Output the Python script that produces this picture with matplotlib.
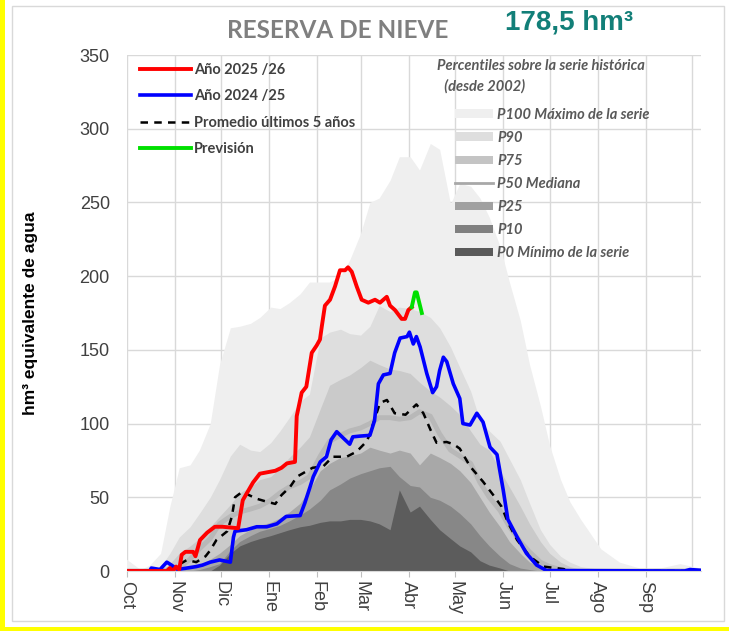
import numpy as np
import matplotlib
matplotlib.use("Agg")
import matplotlib.pyplot as plt
from matplotlib.patches import Patch, Rectangle
from matplotlib.lines import Line2D

# days counted from 1 October
months = ["Oct", "Nov", "Dic", "Ene", "Feb", "Mar", "Abr", "May", "Jun", "Jul", "Ago", "Sep"]
month_start = [0, 31, 61, 92, 123, 151, 182, 212, 243, 273, 304, 335, 365]

# percentile envelopes of the historical series (hm3)
pct_days = [0, 9, 15, 22, 28, 34, 41, 47, 54, 60, 67, 73, 80, 86, 93, 99, 105, 112, 118, 125,
            131, 138, 144, 151, 157, 163, 170, 176, 183, 189, 196, 202, 209, 215, 222, 228,
            234, 241, 247, 254, 260, 267, 273, 280, 286, 293, 306, 318, 331, 344, 357, 370]
p100 = [8, 1, 4, 12, 44, 70, 72, 82, 100, 140, 165, 166, 168, 172, 179, 178, 182, 188, 196, 196,
        196, 200, 211, 229, 250, 253, 265, 281, 281, 272, 290, 286, 249, 263, 261, 253,
        240, 220, 196, 170, 140, 112, 85, 62, 47, 35, 15, 6, 2, 2, 5, 2]
p90 = [0, 0, 0, 3, 12, 23, 30, 39, 50, 62, 78, 86, 82, 81, 87, 95, 104, 115, 120, 158,
       162, 164, 161, 160, 166, 180, 176, 179, 178, 176, 172, 165, 152, 138, 122, 102,
       95, 88, 76, 62, 46, 28, 18, 10, 6, 3, 1, 0, 0, 0, 0, 0]
p75 = [0, 0, 0, 0, 5, 12, 17, 22, 30, 37, 45, 53, 57, 62, 64, 70, 77, 84, 91, 110,
       126, 130, 133, 138, 143, 140, 137, 136, 134, 128, 122, 118, 112, 106, 95, 86,
       82, 68, 57, 44, 32, 20, 12, 6, 3, 1, 0, 0, 0, 0, 0, 0]
p50 = [0, 0, 0, 0, 1, 2, 8, 15, 22, 32, 37, 40, 42, 44, 48, 53, 57, 60, 64, 78,
       88, 92, 95, 97, 100, 104, 104, 103, 104, 108, 105, 93, 82, 78, 73, 60,
       50, 41, 30, 20, 13, 6, 3, 1, 0, 0, 0, 0, 0, 0, 0, 0]
p25 = [0, 0, 0, 0, 0, 0, 2, 4, 8, 12, 18, 24, 28, 31, 33, 36, 40, 46, 55, 68,
       73, 77, 78, 80, 84, 82, 80, 82, 80, 72, 80, 77, 73, 68, 60, 50,
       40, 30, 20, 12, 6, 3, 1, 0, 0, 0, 0, 0, 0, 0, 0, 0]
p10 = [0, 0, 0, 0, 0, 0, 0, 1, 3, 5, 14, 20, 24, 27, 29, 31, 34, 38, 42, 48,
       55, 59, 63, 66, 68, 70, 71, 64, 58, 57, 50, 48, 44, 39, 32, 24,
       17, 10, 5, 2, 1, 0, 0, 0, 0, 0, 0, 0, 0, 0, 0, 0]
p0 = [0, 0, 0, 0, 0, 0, 0, 0, 0, 4, 12, 17, 20, 22, 24, 26, 28, 30, 31, 33,
      34, 34, 35, 35, 34, 32, 28, 55, 40, 44, 35, 28, 22, 17, 13, 7,
      4, 2, 0, 0, 0, 0, 0, 0, 0, 0, 0, 0, 0, 0, 0, 0]

# season 2025/26
red_days = [0, 26, 28, 30, 32, 34, 35.6, 38, 43, 44.5, 47.4, 52, 57, 62, 72, 75, 81.6, 86, 96, 100,
            103.5, 108.7, 109.8, 113, 116, 119.5, 122.7, 124.8, 126, 128, 131.3, 134.5, 137.7,
            141, 142.9, 145.3, 148.5, 151.7, 156, 160.3, 163.5, 167.9, 170, 173.2, 177.5,
            179.7, 181.8, 184]
red_vals = [0, 0, 2, 0, 3, 1, 11, 13, 13, 10, 21, 26, 30, 30, 29, 48, 60, 66, 68, 70,
            73, 74, 105, 121, 125, 148, 153, 157, 166, 180, 184, 193, 204,
            204, 206, 203, 193, 184, 182, 184, 182, 186, 180, 177, 171,
            171, 177, 179]

# forecast
green_days = [184, 186.1, 187.2, 190.5]
green_vals = [179, 189, 189, 175]

# season 2024/25
blue_days = [0, 15, 16, 21.6, 26, 29, 33, 39, 45, 49, 54, 60, 67, 69, 70, 77.5, 84, 90.5, 97,
             103, 112, 115, 118.4, 120.5, 125, 129, 132, 135.6, 140, 144, 146, 150.6, 157,
             160, 162.5, 165.7, 170, 173, 176.5, 181, 182.5, 185, 187, 189.4, 193.7, 197.5,
             200, 202, 204.4, 206.6, 210.8, 215, 217, 221.6, 226, 230, 234.5, 239, 243,
             246, 252, 258, 264.6, 271, 360, 363.5, 370]
blue_vals = [0, 0, 2, 1, 6, 4, 1, 2, 3, 4, 6, 7.5, 6, 23, 27, 28, 30, 30, 32,
             37, 37.6, 46, 57, 64, 74, 77.5, 89, 94.5, 90, 86, 91, 91.5, 92,
             102, 127, 133, 134, 148, 158, 159, 162, 154, 159, 152, 134, 121,
             125, 136, 145, 142, 127, 117, 100, 99, 107, 101, 84, 79, 55,
             35, 23, 12, 4, 0.3, 0, 1, 0.5]

# mean of the last 5 seasons
avg_days = [0, 25, 30, 39, 45, 51, 54, 58, 65, 68, 70, 75, 78, 84, 90.5, 96, 100, 105.5, 110,
            115, 120, 127, 133, 142, 148.5, 155, 157, 163.5, 168, 173, 180, 187, 191.5, 196,
            200, 206.6, 211, 215, 221.6, 230, 236.6, 242, 246, 252, 260.3, 269, 282, 286, 370]
avg_vals = [0, 0, 2, 7.5, 6, 10, 14, 21, 27, 37, 50, 54, 52, 49, 47, 45.5, 51.5, 57, 64,
            67, 70, 71, 77.5, 77.5, 81, 88, 93, 114, 116, 107, 106, 113, 107, 96,
            87, 87.5, 86, 83, 71, 60.6, 51.5, 43.6, 33, 21, 9.7, 3, 1.3, 0, 0]

W, H = 729, 631
fig = plt.figure(figsize=(W / 100, H / 100), dpi=100)
ax = fig.add_axes([126.5 / W, 60 / H, 574.5 / W, 516 / H])

fills = [(p100, "#efefef"), (p90, "#dedede"), (p75, "#cacaca"),
         (p25, "#a8a8a8"), (p10, "#878787"), (p0, "#5c5c5c")]
for vals, col in fills:
    ax.fill_between(pct_days, 0, vals, color=col, lw=0, zorder=2)
ax.plot(pct_days, p50, color="#b8b8b8", lw=3.5, zorder=3)

ax.plot(avg_days, avg_vals, color="black", lw=1.8, ls=(0, (3, 2.5)), zorder=4)
ax.plot(blue_days, blue_vals, color="#0000ff", lw=2.6, zorder=5)
ax.plot(red_days, red_vals, color="#ff0000", lw=2.8, zorder=6)
ax.plot(green_days, green_vals, color="#00e000", lw=2.8, zorder=7)

ax.set_xlim(0, 370.6)
ax.set_ylim(0, 350)
ax.set_yticks(range(0, 351, 50))
ax.set_xticks(month_start[:-1])
ax.set_xticklabels(months, rotation=270, ha="center", va="top")
for d in month_start:
    ax.axvline(d, color="#d9d9d9", lw=1, zorder=1)
for v in range(50, 351, 50):
    ax.axhline(v, color="#d9d9d9", lw=1, zorder=1)
for s in ["top", "right", "left"]:
    ax.spines[s].set_visible(False)
ax.spines["bottom"].set_color("#d9d9d9")
ax.spines["bottom"].set_zorder(8)
ax.tick_params(axis="y", length=0, pad=12, labelsize=13, labelcolor="#404040")
ax.tick_params(axis="x", length=4, color="#bfbfbf", pad=3, labelsize=13, labelcolor="#404040")
for lab in ax.get_xticklabels() + ax.get_yticklabels():
    lab.set_family("Liberation Sans")

ax.set_ylabel("hm³ equivalente de agua", fontsize=12.5, fontweight="bold",
              family="Liberation Sans", color="black", labelpad=30)

fig.text(338 / W, 1 - 31 / H, "RESERVA DE NIEVE", ha="center", va="center",
         fontsize=17.5, fontweight="bold", family="Lato", color="#7f7f7f")
fig.text(505 / W, 1 - 22 / H, "178,5 hm³", ha="left", va="center",
         fontsize=20, fontweight="bold", family="Liberation Sans", color="#127f78")

# left legend
h1 = [Line2D([], [], color="#ff0000", lw=2.8),
      Line2D([], [], color="#0000ff", lw=2.6),
      Line2D([], [], color="black", lw=1.8, ls=(0, (3, 2.5))),
      Line2D([], [], color="#00e000", lw=2.8)]
l1 = ["Año 2025 /26", "Año 2024 /25", "Promedio últimos 5 años", "Previsión"]
leg1 = fig.legend(h1, l1, loc="upper left", bbox_to_anchor=(140 / W, 1 - 63 / H),
                  frameon=False, borderpad=0, borderaxespad=0, handlelength=3.5,
                  handletextpad=0.2, labelspacing=0.85,
                  prop={"family": "Lato", "weight": "bold", "size": 10.5})
for t in leg1.get_texts():
    t.set_color("#404040")

# right legend
fig.text(437 / W, 1 - 66 / H, "Percentiles sobre la serie histórica", ha="left", va="center",
         fontsize=10.5, fontweight="bold", style="italic", family="Lato", color="#595959")
fig.text(441 / W, 1 - 86 / H, " (desde 2002)", ha="left", va="center",
         fontsize=10.5, fontweight="bold", style="italic", family="Lato", color="#595959")
h2 = [Patch(facecolor="#efefef"), Patch(facecolor="#dedede"), Patch(facecolor="#c4c4c4"),
      Line2D([], [], color="#a8a8a8", lw=2), Patch(facecolor="#a0a0a0"),
      Patch(facecolor="#808080"), Patch(facecolor="#5a5a5a")]
l2 = ["P100 Máximo de la serie", "P90", "P75", "P50 Mediana", "P25", "P10", "P0 Mínimo de la serie"]
leg2 = fig.legend(h2, l2, loc="upper left", bbox_to_anchor=(455 / W, 1 - 108 / H),
                  frameon=False, borderpad=0, borderaxespad=0, handlelength=2.6,
                  handleheight=0.55, handletextpad=0.3, labelspacing=0.62,
                  prop={"family": "Lato", "weight": "bold", "style": "italic", "size": 10.5})
for t in leg2.get_texts():
    t.set_color("#595959")

# chart frame and yellow border
fig.add_artist(Rectangle((12 / W, 10 / H), 712 / W, 615 / H, transform=fig.transFigure,
                         fill=False, edgecolor="#d9d9d9", lw=1))
fig.add_artist(Rectangle((0, 0), 5 / W, 1, transform=fig.transFigure,
                         facecolor="#ffff00", edgecolor="none"))
fig.add_artist(Rectangle((0, 0), 1, 4 / H, transform=fig.transFigure,
                         facecolor="#ffff00", edgecolor="none"))

fig.savefig("out.png", dpi=100, facecolor="white")
